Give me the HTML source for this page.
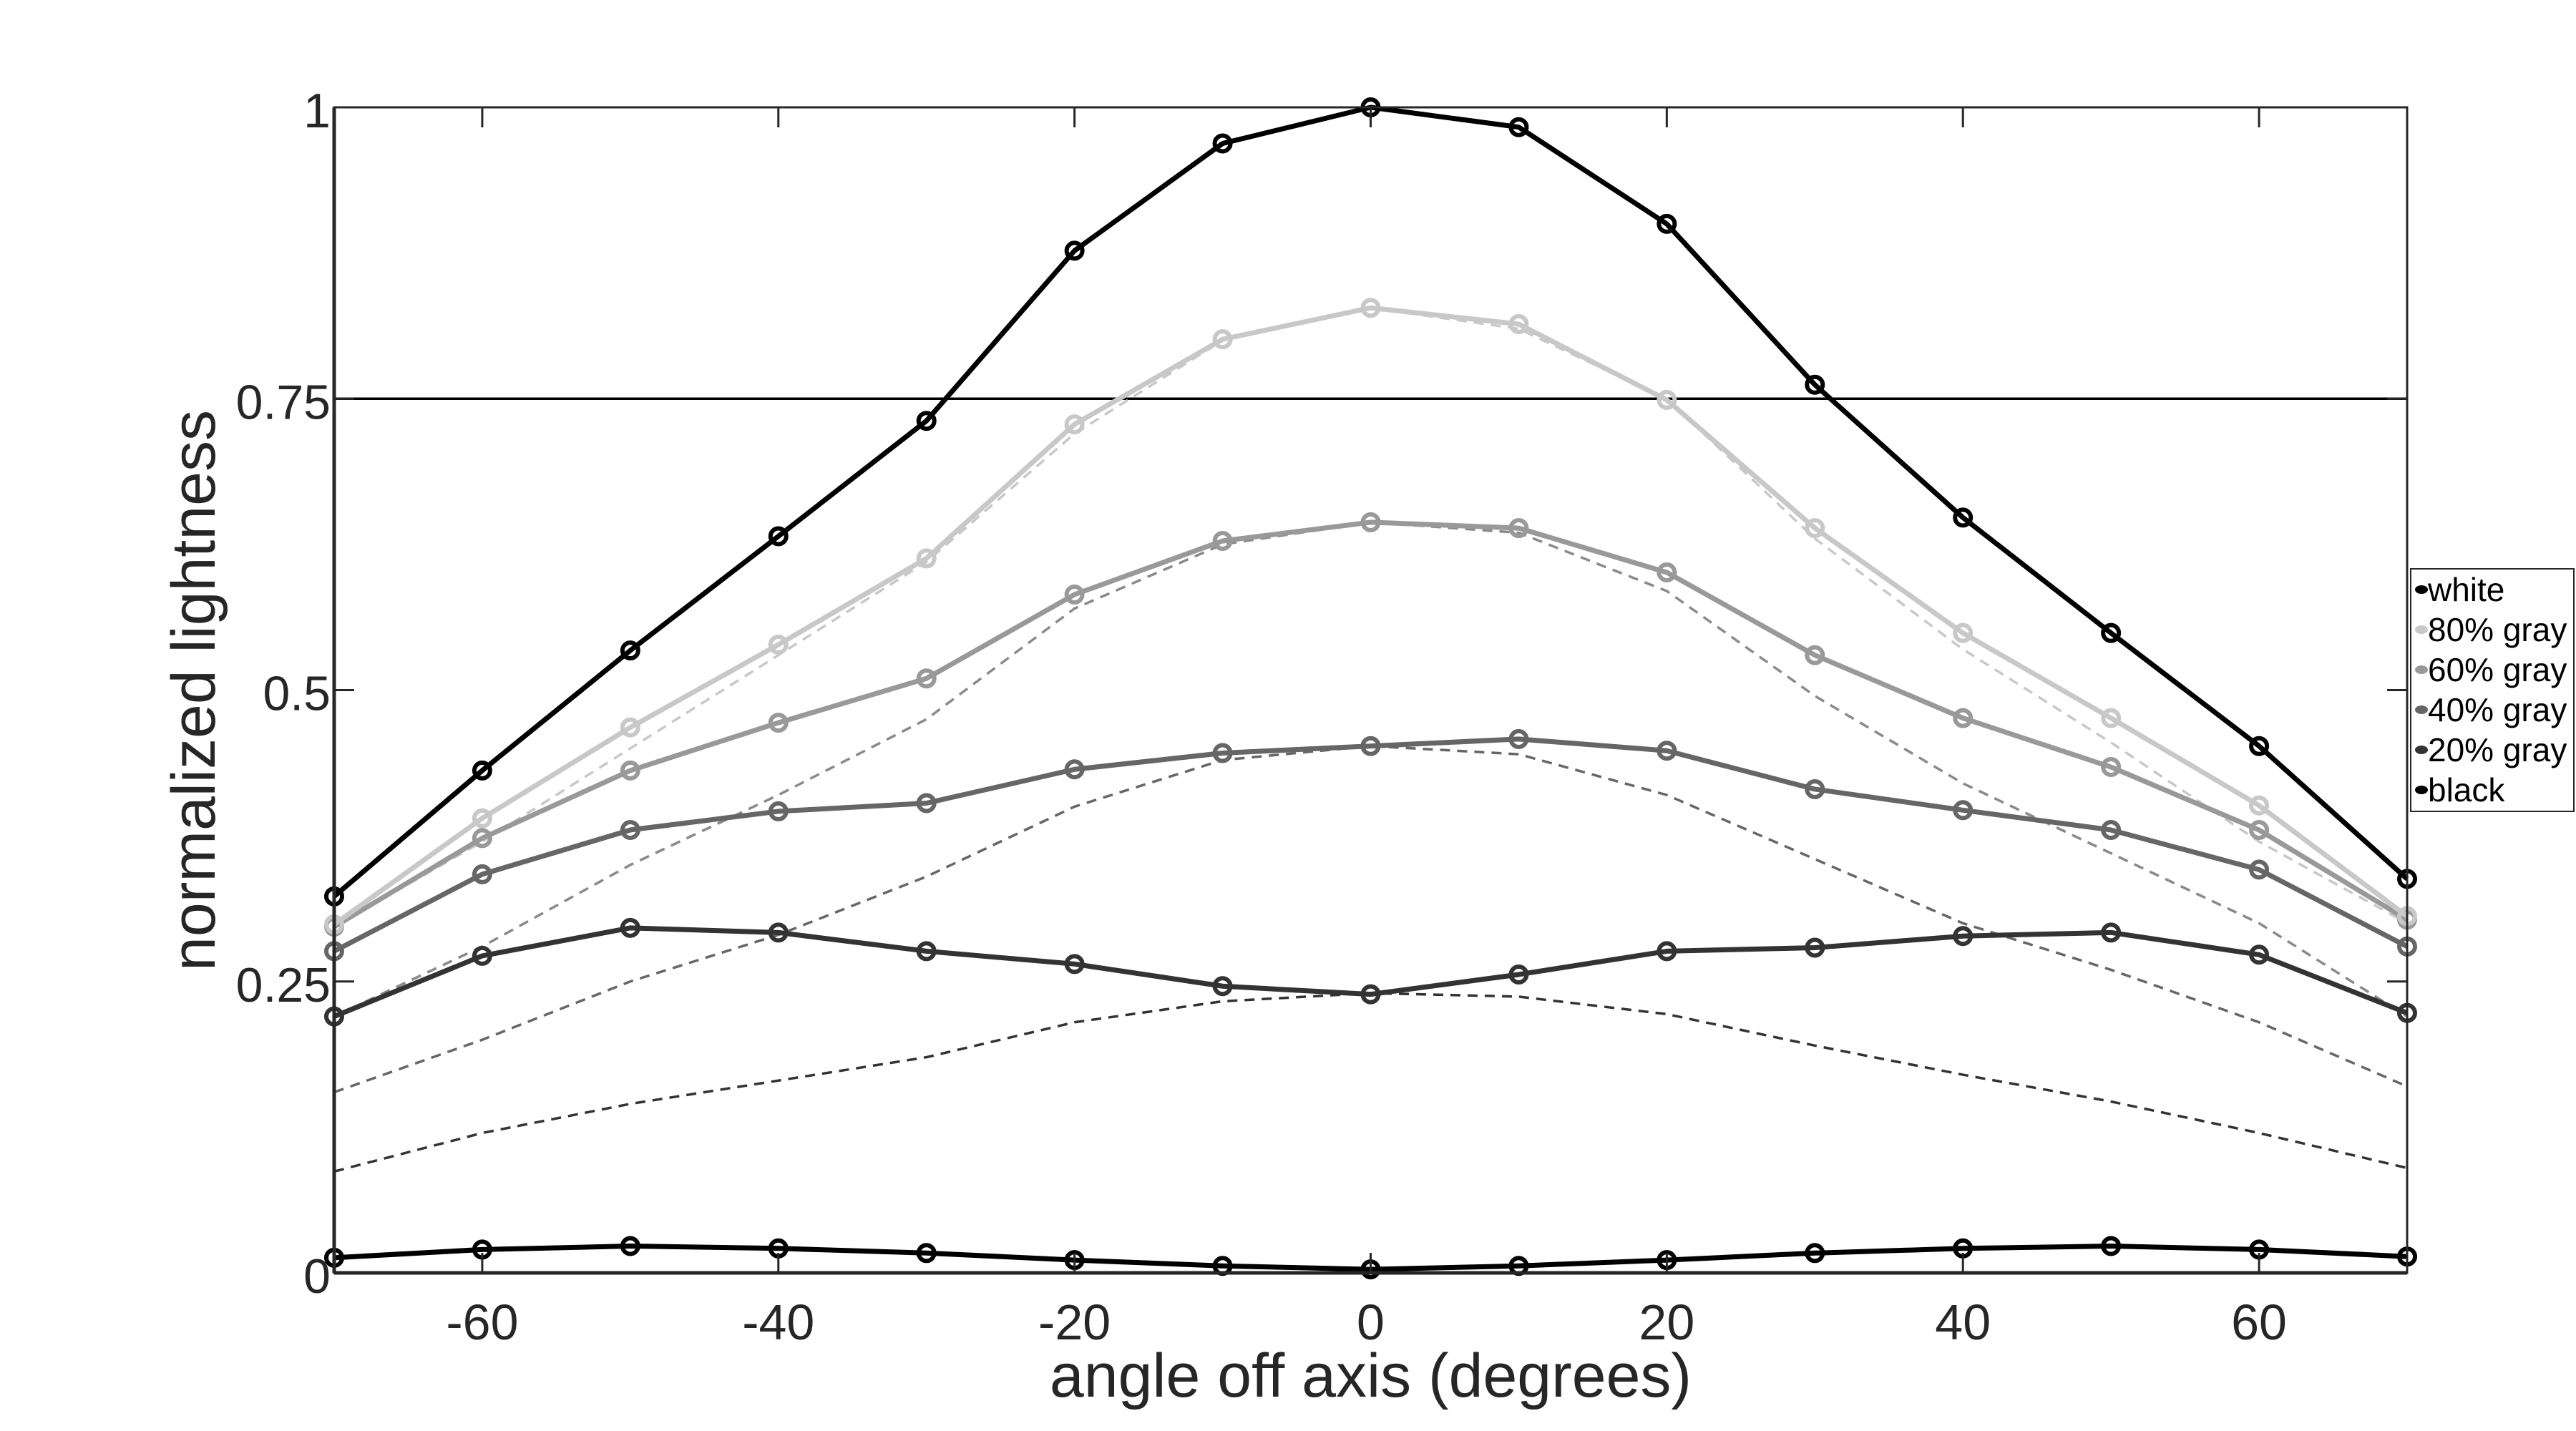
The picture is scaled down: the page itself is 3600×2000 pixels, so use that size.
<!DOCTYPE html>
<html><head><meta charset="utf-8"><style>
html,body{margin:0;padding:0;background:#fff;}
svg{display:block;font-family:"Liberation Sans",sans-serif;}
</style></head><body>
<svg id="chart" width="3600" height="2000" viewBox="0 0 3600 2000" xmlns="http://www.w3.org/2000/svg">
<g id="grid"></g>
<g id="series"></g>
<g id="axes"></g>
</svg>
<script>
const angles=[-70,-60,-50,-40,-30,-20,-10,0,10,20,30,40,50,60,70];
const whiteVals=[0.323,0.431,0.534,0.632,0.731,0.877,0.969,1.0,0.983,0.9,0.762,0.648,0.549,0.452,0.338];
const gray80Vals=[0.299,0.39,0.468,0.539,0.613,0.728,0.801,0.828,0.814,0.749,0.639,0.549,0.476,0.401,0.306];
const gray60Vals=[0.297,0.373,0.431,0.472,0.51,0.582,0.628,0.644,0.639,0.601,0.53,0.476,0.434,0.38,0.303];
const gray40Vals=[0.276,0.342,0.38,0.396,0.403,0.432,0.446,0.452,0.458,0.448,0.415,0.397,0.38,0.346,0.28];
const gray20Vals=[0.22,0.272,0.296,0.292,0.276,0.265,0.246,0.239,0.256,0.276,0.279,0.289,0.292,0.273,0.223];
const blackVals=[0.013,0.02,0.023,0.021,0.017,0.011,0.006,0.003,0.006,0.011,0.017,0.021,0.023,0.02,0.014];
const ref80Vals=[0.297,0.37,0.45,0.53,0.61,0.72,0.80,0.828,0.81,0.75,0.63,0.535,0.455,0.37,0.30];
const ref60Vals=[0.22,0.28,0.35,0.41,0.475,0.57,0.625,0.644,0.635,0.585,0.495,0.42,0.36,0.30,0.22];
const ref40Vals=[0.155,0.2,0.25,0.29,0.34,0.40,0.44,0.452,0.445,0.41,0.355,0.30,0.26,0.215,0.16];
const ref20Vals=[0.087,0.12,0.145,0.165,0.185,0.215,0.233,0.24,0.237,0.222,0.195,0.17,0.147,0.12,0.09];
const xTicks=[-60,-40,-20,0,20,40,60];
const yTicks=[0,0.25,0.5,0.75,1];
const yTickLabels=["0","0.25","0.5","0.75","1"];
const thresholdVals=[0.75];
const legendLabels=["white","80% gray","60% gray","40% gray","20% gray","black"];

const NS="http://www.w3.org/2000/svg";
const L=467,R=3364,T=150,B=1779;
const xMin=-70,xMax=70,yMin=0,yMax=1;
function X(v){return L+(v-xMin)/(xMax-xMin)*(R-L);}
function Y(v){return B-(v-yMin)/(yMax-yMin)*(B-T);}
function mk(tag,attrs,parent){const e=document.createElementNS(NS,tag);for(const k in attrs)e.setAttribute(k,attrs[k]);parent.appendChild(e);return e;}
const series=document.getElementById('series'),axes=document.getElementById('axes'),grid=document.getElementById('grid');

thresholdVals.forEach(v=>{
  const ln=mk('line',{x1:L,x2:R,y1:Y(v),y2:Y(v),stroke:'#000','stroke-width':3.5},grid);
  
  
});

function pts(vals){return vals.map((v,i)=>X(angles[i])+','+Y(v)).join(' ');}
const refs=[[ref80Vals,'#c8c8c8','ref-80-gray'],[ref60Vals,'#8a8a8a','ref-60-gray'],[ref40Vals,'#666','ref-40-gray'],[ref20Vals,'#333','ref-20-gray']];
refs.forEach(r=>{
  const p=mk('polyline',{points:pts(r[0]),fill:'none',stroke:r[1],'stroke-width':3.5,'stroke-dasharray':'14 10'},series);
  
  
});
const ser=[[blackVals,'#000','black'],[gray20Vals,'#333','20-gray'],[gray40Vals,'#666','40-gray'],[gray60Vals,'#999','60-gray'],[gray80Vals,'#c8c8c8','80-gray'],[whiteVals,'#000','white']];
ser.forEach(s=>{
  const g=mk('g',{},series);
  
  
  const p=mk('polyline',{points:pts(s[0]),fill:'none',stroke:s[1],'stroke-width':7,'stroke-linejoin':'round'},g);
  
  
  s[0].forEach((v,i)=>{
    const c=mk('circle',{cx:X(angles[i]),cy:Y(v),r:11,fill:'none',stroke:s[1],'stroke-width':6},g);
    
    
  });
});

const box=mk('rect',{x:L,y:T,width:R-L,height:B-T,fill:'none',stroke:'#262626','stroke-width':3},axes);


const lx=mk('line',{x1:L,x2:L,y1:T,y2:B,stroke:'#262626','stroke-width':5},axes);


const bx=mk('line',{x1:L,x2:R,y1:B,y2:B,stroke:'#262626','stroke-width':5},axes);


xTicks.forEach(t=>{
  const a=mk('line',{x1:X(t),x2:X(t),y1:B,y2:B-28,stroke:'#262626','stroke-width':3},axes);
  
  
  const b=mk('line',{x1:X(t),x2:X(t),y1:T,y2:T+28,stroke:'#262626','stroke-width':3},axes);
  
  
  const tx=mk('text',{x:X(t),y:1872,'text-anchor':'middle','font-size':70,fill:'#262626'},axes);
  tx.textContent=String(t);
  
  
});
yTicks.forEach((t,i)=>{
  const a=mk('line',{x1:L,x2:L+28,y1:Y(t),y2:Y(t),stroke:'#262626','stroke-width':3},axes);
  
  
  const b=mk('line',{x1:R,x2:R-28,y1:Y(t),y2:Y(t),stroke:'#262626','stroke-width':3},axes);
  
  
  const tx=mk('text',{x:462,y:Y(t)+28,'text-anchor':'end','font-size':68,fill:'#262626'},axes);
  tx.textContent=yTickLabels[i];
  
  
});
const xt=mk('text',{x:(L+R)/2,y:1952,'text-anchor':'middle','font-size':86,fill:'#262626'},axes);
xt.textContent='angle off axis (degrees)';


const yt=mk('text',{x:0,y:0,'text-anchor':'middle','font-size':86,fill:'#262626',transform:'translate(300,965) rotate(-90)'},axes);
yt.textContent='normalized lightness';



const lg=mk('g',{},axes);


mk('rect',{x:3369,y:795,width:228,height:339,fill:'#fff',stroke:'#262626','stroke-width':2},lg);
const legColors=['#000','#c8c8c8','#999','#666','#333','#000'];
legendLabels.forEach((lab,i)=>{
  const e=mk('g',{},lg);
  
  
  const cy=824+i*56;
  mk('ellipse',{cx:3384,cy:cy,rx:9,ry:6,fill:legColors[i]},e);
  const t=mk('text',{x:3393,y:cy+16,'font-size':46,fill:'#000'},e);
  t.textContent=lab;
});
</script>
</body></html>
